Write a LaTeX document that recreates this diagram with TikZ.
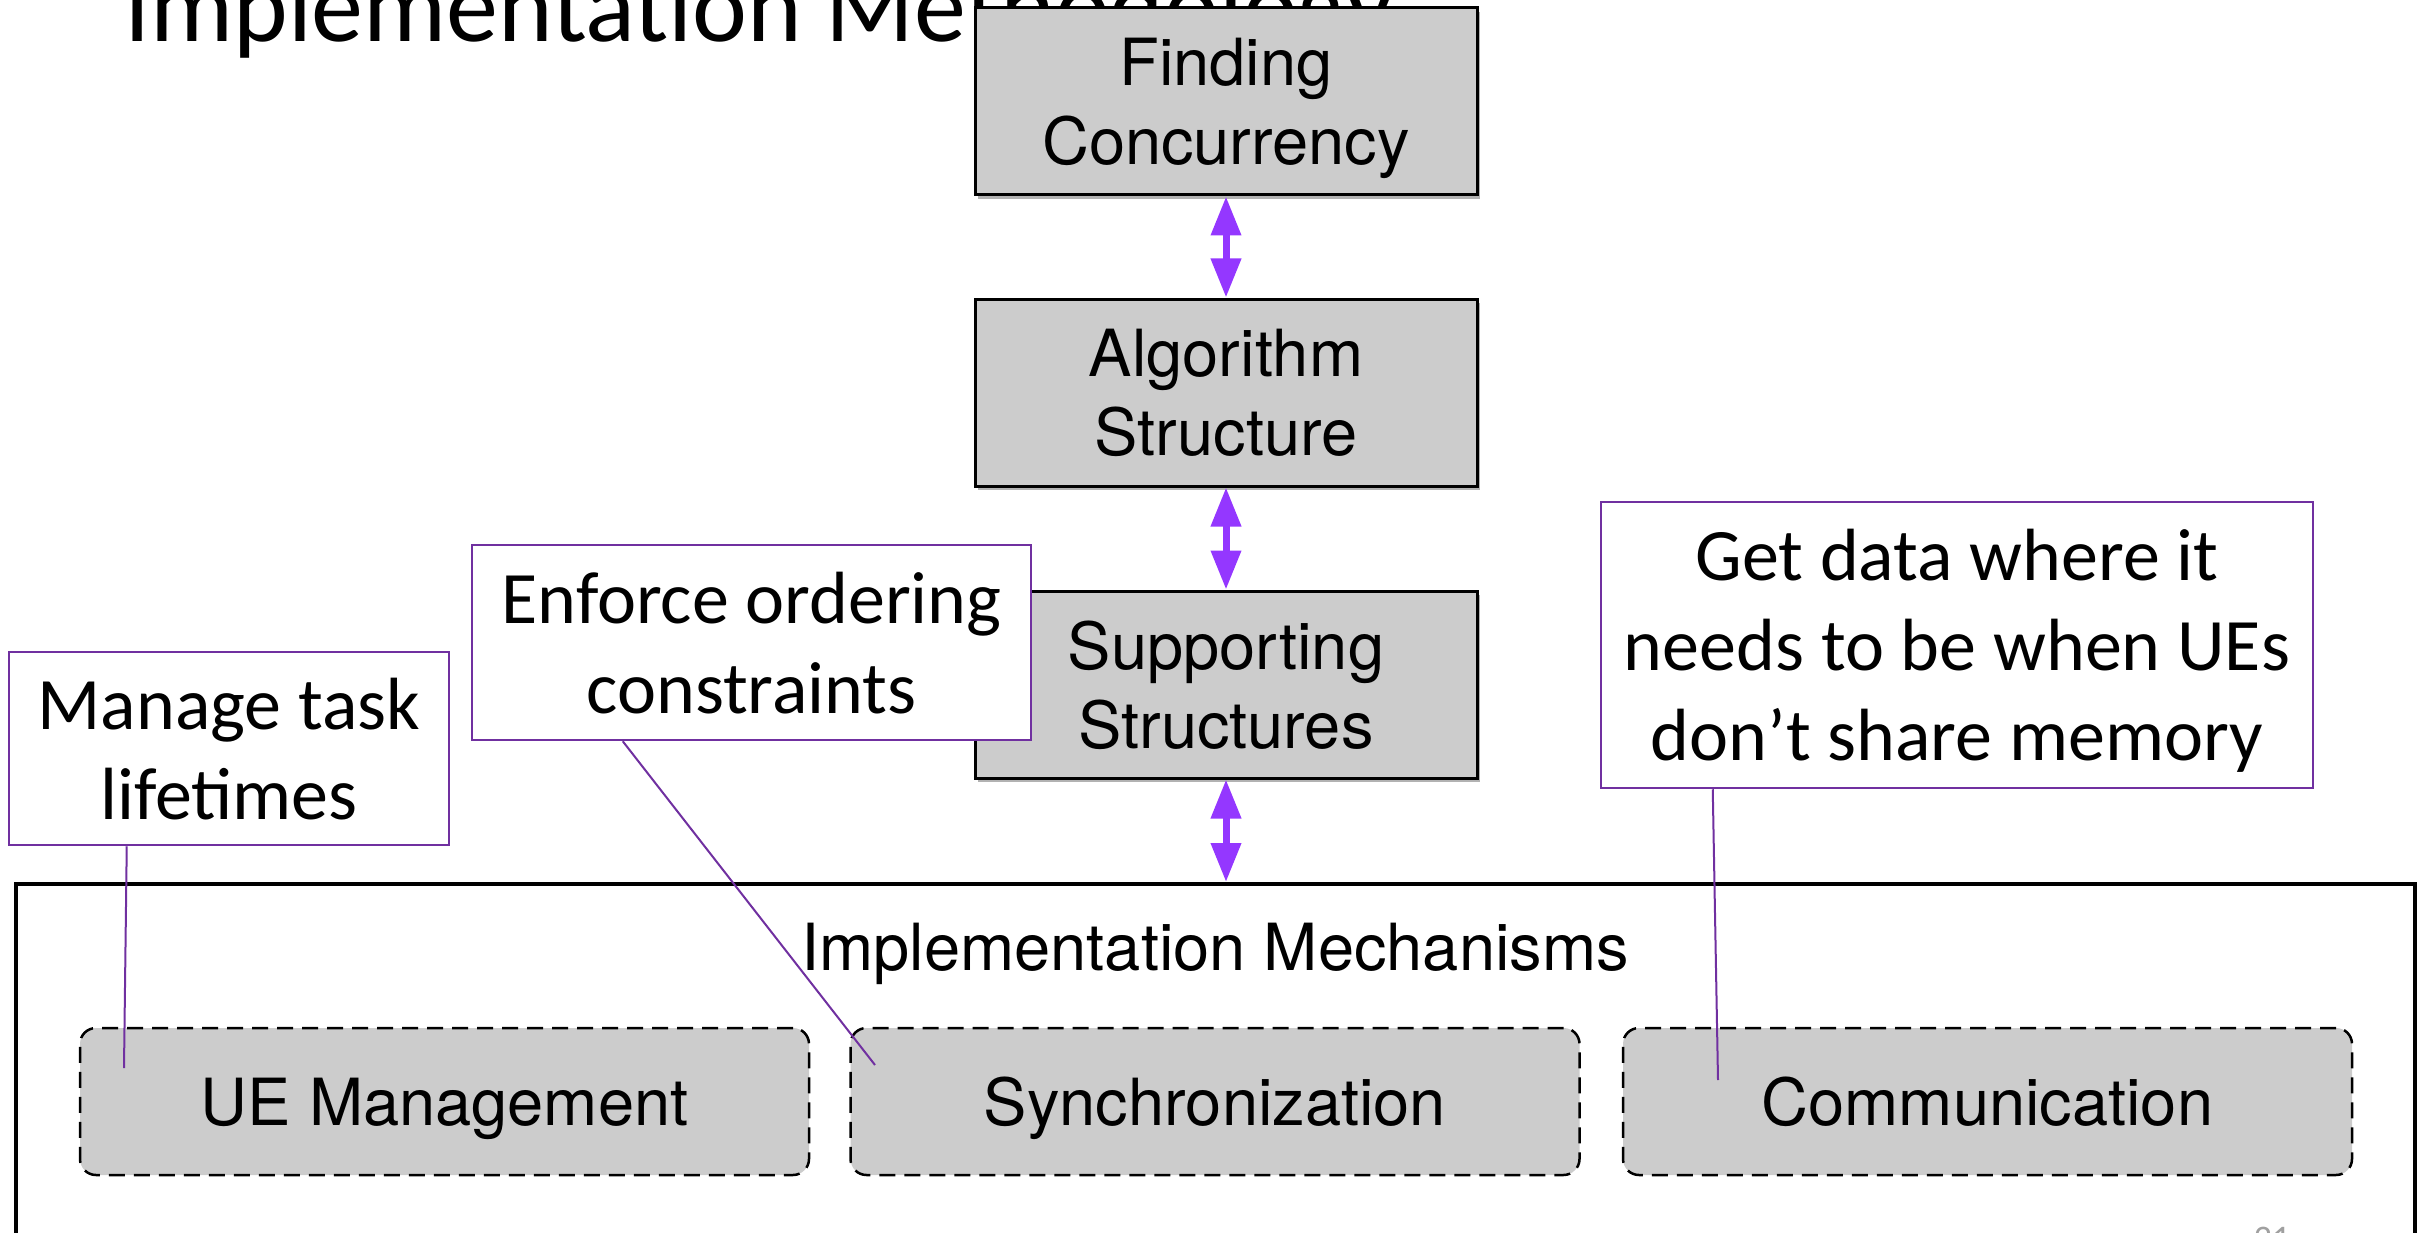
\documentclass[tikz,border=0pt]{standalone}
\usepackage{fontspec}
\setmainfont{TeX Gyre Heros}
\newfontfamily\calibri{Carlito}
\usetikzlibrary{arrows.meta,shadows}
\definecolor{boxgray}{HTML}{CCCCCC}
\definecolor{arrowpurple}{HTML}{9437FF}
\definecolor{notepurple}{HTML}{7030A0}
\definecolor{pagegray}{HTML}{A0A0A0}

\begin{document}
\begin{tikzpicture}[x=1pt,y=-1pt,
  layer/.style={draw=black, line width=3pt, fill=boxgray, minimum width=502pt,
    minimum height=187pt, inner sep=0pt, align=center, text depth=0pt,
    font=\fontsize{65}{79}\selectfont,
    drop shadow={shadow xshift=3pt, shadow yshift=-4pt, fill=black, opacity=0.3}},
  mech/.style={draw=black, dash pattern=on 16pt off 9pt, line width=2.5pt,
    fill=boxgray, rounded corners=16pt, minimum width=729pt,
    minimum height=147pt, inner sep=0pt, text depth=0pt,
    font=\fontsize{65}{79}\selectfont},
  note/.style={draw=notepurple, line width=2.5pt, fill=white, inner sep=0pt,
    align=center, text depth=0pt, font=\calibri\fontsize{74}{90}\selectfont},
  link/.style={draw=notepurple, line width=2pt},
  dbl/.style={draw=arrowpurple, line width=7pt,
    {Triangle[length=39pt,width=29pt]}-{Triangle[length=39pt,width=29pt]}}
]
\useasboundingbox (0,0) rectangle (2427,1233);
\clip (0,0) rectangle (2427,1233);

% slide title, partly covered by the top layer
\node[anchor=base west, inner sep=0pt, font=\calibri\fontsize{104}{120}\selectfont]
  (title) at (124,42) {Implementation Methodology};

% the design layers
\node[layer] (find) at (1226,101.5) {Finding\\Concurrency};
\node[layer] (algo) at (1226,392.5) {Algorithm\\Structure};
\node[layer] (supp) at (1226,684.5) {Supporting\\Structures};

% implementation mechanisms frame
\node[draw=black, line width=4pt, anchor=north west, minimum width=2399pt,
  minimum height=420pt, inner sep=0pt] (impl) at (14,882) {};
\node[inner sep=0pt, text depth=0pt, font=\fontsize{65}{79}\selectfont]
  (impltitle) at (1215,947) {Implementation Mechanisms};
\node[mech] (ue)   at (444.5,1101.5) {UE Management};
\node[mech] (sync) at (1215,1101.5)  {Synchronization};
\node[mech] (comm) at (1987.5,1101.5) {Communication};

% arrows between layers
\draw[dbl] (find.south) -- (algo.north);
\draw[dbl] (algo.south) -- (supp.north);
\draw[dbl] (supp.south) -- (supp.south |- impl.north);

% annotations
\node[note, minimum width=440pt, minimum height=193pt] (manage) at (229,748.5)
  {Manage task\\lifetimes};
\node[note, minimum width=559pt, minimum height=195pt] (enforce) at (751.5,642.5)
  {Enforce ordering\\constraints};
\node[note, minimum width=712pt, minimum height=286pt] (getdata) at (1957,645)
  {Get data where it\\needs to be when UEs\\don’t share memory};

\coordinate (ueend)   at (124,1068);
\coordinate (syncend) at (875,1065);
\coordinate (commend) at (1718,1080);
\draw[link] ([xshift=119pt]manage.south west) -- (ueend);
\draw[link] ([xshift=152pt]enforce.south west) -- (syncend);
\draw[link] ([xshift=113pt]getdata.south west) -- (commend);

% page number
\node[anchor=base, inner sep=0pt, text=pagegray, font=\calibri\fontsize{36}{40}\selectfont]
  (page) at (2272,1250) {21};
\end{tikzpicture}
\end{document}
